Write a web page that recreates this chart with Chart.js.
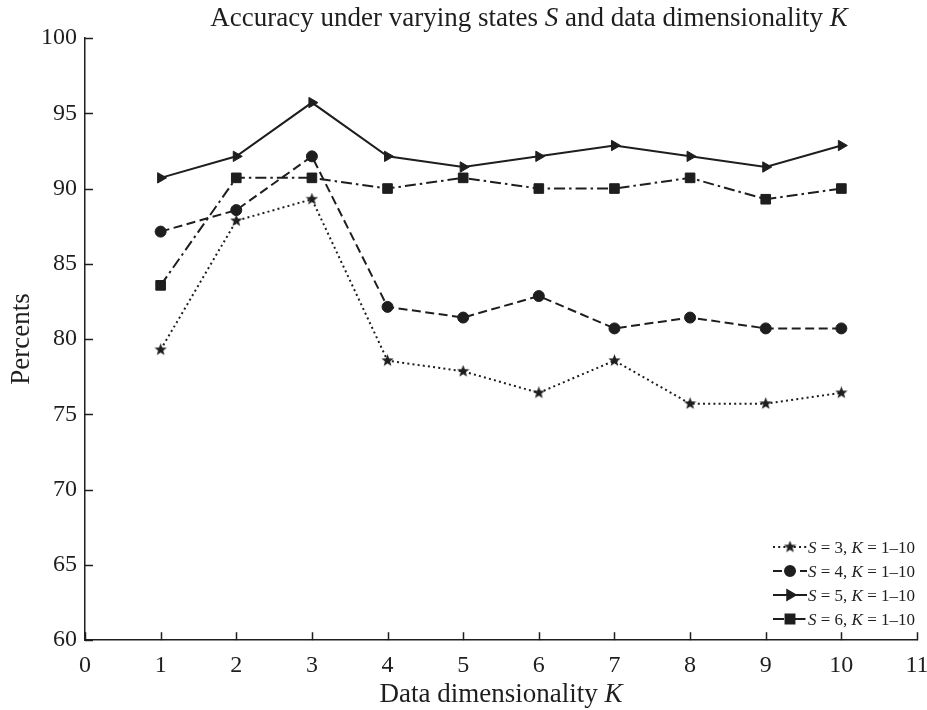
<!DOCTYPE html>
<html>
<head>
<meta charset="utf-8">
<script src="https://cdn.jsdelivr.net/npm/chart.js@4.4.1/dist/chart.umd.min.js"></script>
<style>
  html, body { margin: 0; padding: 0; background: #ffffff; }
  #wrap { width: 927px; height: 710px; }
</style>
</head>
<body>
<div id="wrap"><canvas id="c" width="927" height="710"></canvas></div>
<script>
// ---- Data ----
const kValues = [1, 2, 3, 4, 5, 6, 7, 8, 9, 10];
const accS3 = [79.29, 87.86, 89.29, 78.57, 77.86, 76.43, 78.57, 75.71, 75.71, 76.43];
const accS4 = [87.14, 88.57, 92.14, 82.14, 81.43, 82.86, 80.71, 81.43, 80.71, 80.71];
const accS5 = [90.71, 92.14, 95.71, 92.14, 91.43, 92.14, 92.86, 92.14, 91.43, 92.86];
const accS6 = [83.57, 90.71, 90.71, 90.00, 90.71, 90.00, 90.00, 90.71, 89.29, 90.00];
const seriesStates = [3, 4, 5, 6];
const xTickValues = [0, 1, 2, 3, 4, 5, 6, 7, 8, 9, 10, 11];
const yTickValues = [60, 65, 70, 75, 80, 85, 90, 95, 100];
const titleParts = [["Accuracy under varying states ", false], ["S", true], [" and data dimensionality ", false], ["K", true]];
const xTitleParts = [["Data dimensionality ", false], ["K", true]];
const yTitleText = "Percents";

const INK = '#1e1e1e';
const SERIF = '"Liberation Serif", "Times New Roman", serif';

function toPoints(arr) { return kValues.map((k, i) => ({ x: k, y: arr[i] })); }

// filled star marker
function makeStar(size) {
  const c = document.createElement('canvas');
  c.width = size; c.height = size;
  const g = c.getContext('2d');
  const cx = size / 2, cy = size / 2, R = size / 2, r = R * 0.42;
  g.beginPath();
  for (let i = 0; i < 10; i++) {
    const a = -Math.PI / 2 + i * Math.PI / 5;
    const rad = i % 2 === 0 ? R : r;
    const px = cx + rad * Math.cos(a), py = cy + rad * Math.sin(a);
    if (i === 0) g.moveTo(px, py); else g.lineTo(px, py);
  }
  g.closePath();
  g.fillStyle = INK;
  g.fill();
  return c;
}
const starImg = makeStar(13);

const styles = [
  { dash: [2, 3.2], pointStyle: starImg, radius: 6, rot: 0 },
  { dash: [9, 4.5], pointStyle: 'circle', radius: 5.5, rot: 0 },
  { dash: [], pointStyle: 'triangle', radius: 6, rot: 90 },
  { dash: [11, 4, 2.5, 4], pointStyle: 'rect', radius: 6.8, rot: 0 }
];
const allSeries = [accS3, accS4, accS5, accS6];

const datasets = allSeries.map((arr, i) => ({
  label: 'S = ' + seriesStates[i] + ', K = 1\u201310',
  data: toPoints(arr),
  borderColor: INK,
  backgroundColor: INK,
  borderWidth: 2,
  borderDash: styles[i].dash,
  pointStyle: styles[i].pointStyle,
  pointRadius: styles[i].radius,
  pointRotation: styles[i].rot,
  pointBackgroundColor: INK,
  pointBorderColor: INK,
  pointBorderWidth: 1,
  tension: 0,
  fill: false
}));

function drawParts(ctx, parts, x, y, size, align) {
  ctx.save();
  ctx.textBaseline = 'alphabetic';
  ctx.fillStyle = INK;
  let total = 0;
  const widths = parts.map(p => {
    ctx.font = (p[1] ? 'italic ' : '') + size + 'px ' + SERIF;
    const w = ctx.measureText(p[0]).width;
    total += w;
    return w;
  });
  let cx = align === 'center' ? x - total / 2 : x;
  parts.forEach((p, i) => {
    ctx.font = (p[1] ? 'italic ' : '') + size + 'px ' + SERIF;
    ctx.textAlign = 'left';
    ctx.fillText(p[0], cx, y);
    cx += widths[i];
  });
  ctx.restore();
}

const decorPlugin = {
  id: 'decor',
  afterDraw(chart) {
    const ctx = chart.ctx;
    const xs = chart.scales.x, ys = chart.scales.y;
    const area = chart.chartArea;
    ctx.save();
    ctx.strokeStyle = INK;
    ctx.lineWidth = 1.5;
    ctx.setLineDash([]);
    // inward tick marks
    xTickValues.forEach(v => {
      const px = Math.round(xs.getPixelForValue(v)) + 0.5;
      ctx.beginPath(); ctx.moveTo(px, area.bottom); ctx.lineTo(px, area.bottom - 8); ctx.stroke();
    });
    yTickValues.forEach(v => {
      const py = Math.round(ys.getPixelForValue(v)) + 0.5;
      ctx.beginPath(); ctx.moveTo(area.left, py); ctx.lineTo(area.left + 8, py); ctx.stroke();
    });
    ctx.restore();

    // title
    drawParts(ctx, titleParts, 529, 26, 27, 'center');
    // x title
    drawParts(ctx, xTitleParts, (area.left + area.right) / 2, 702, 27, 'center');
    // y title
    ctx.save();
    ctx.translate(22, (area.top + area.bottom) / 2);
    ctx.rotate(-Math.PI / 2);
    ctx.font = '27px ' + SERIF;
    ctx.fillStyle = INK;
    ctx.textAlign = 'center';
    ctx.textBaseline = 'middle';
    ctx.fillText(yTitleText, 0, 0);
    ctx.restore();

    // legend
    const rowsY = [547, 571, 595, 619];
    const lx0 = 773, lx1 = 807, mx = 790, tx = 808;
    rowsY.forEach((ry, i) => {
      const st = styles[i];
      ctx.save();
      ctx.strokeStyle = INK;
      ctx.lineWidth = 2;
      ctx.setLineDash(st.dash);
      ctx.beginPath(); ctx.moveTo(lx0, ry); ctx.lineTo(lx1, ry); ctx.stroke();
      ctx.setLineDash([]);
      ctx.fillStyle = INK;
      Chart.helpers.drawPoint(ctx, { pointStyle: st.pointStyle, rotation: st.rot, radius: st.radius - 0.5, borderWidth: 1 }, mx, ry);
      ctx.restore();
      drawParts(ctx, [["S", true], [" = " + seriesStates[i] + ", ", false], ["K", true], [" = 1\u201310", false]], tx, ry + 6, 17, 'left');
    });
  }
};

new Chart(document.getElementById('c'), {
  type: 'line',
  data: { datasets },
  plugins: [decorPlugin],
  options: {
    responsive: false,
    animation: false,
    devicePixelRatio: 1,
    layout: { padding: { top: 38, left: 33, right: 10, bottom: 19 } },
    plugins: {
      legend: { display: false },
      title: { display: false },
      tooltip: { enabled: false }
    },
    scales: {
      x: {
        type: 'linear',
        min: 0, max: 11,
        afterBuildTicks: (s) => { s.ticks = xTickValues.map(v => ({ value: v })); },
        afterFit: (s) => { s.paddingRight = 0; s.paddingLeft = 0; },
        ticks: { font: { family: SERIF, size: 24 }, color: INK, padding: 11, maxRotation: 0 },
        grid: { display: false, drawTicks: false },
        border: { display: true, color: INK, width: 1.5 }
      },
      y: {
        type: 'linear',
        min: 60, max: 100,
        afterBuildTicks: (s) => { s.ticks = yTickValues.map(v => ({ value: v })); },
        ticks: { font: { family: SERIF, size: 24 }, color: INK, padding: 8 },
        grid: { display: false, drawTicks: false },
        border: { display: true, color: INK, width: 1.5 }
      }
    }
  }
});
</script>
</body>
</html>
